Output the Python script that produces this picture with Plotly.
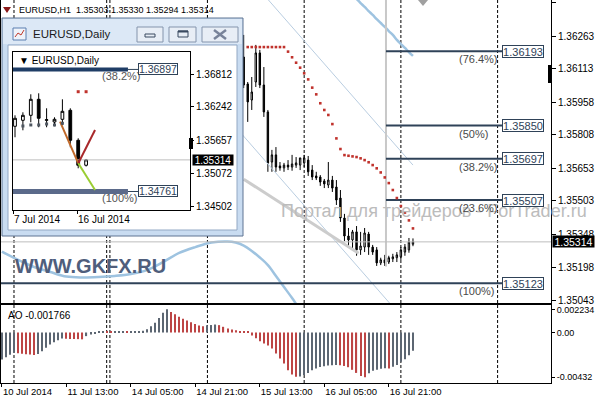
import plotly.graph_objects as go

# ------------------------------------------------------------------ data
header_text = "EURUSD,H1\u00a0 1.35303 1.35330 1.35294 1.35314"

# H1 chart: bar 0 = 10 Jul 2014 21:00
time_tick_bars = [0, 16, 32, 48, 64, 80, 96]
time_tick_labels = ["10 Jul 2014", "11 Jul 13:00", "14 Jul 05:00", "14 Jul 21:00",
                    "15 Jul 13:00", "16 Jul 05:00", "16 Jul 21:00"]
day_separator_bars = [3.0, 26.0, 26.8, 51.0, 75.0, 99.0, 123.0]

price_ticks = [1.36418, 1.36263, 1.36113, 1.35958, 1.35808,
               1.35653, 1.35503, 1.35348, 1.35198, 1.35043]
price_tick_labels = ["1.36418", "1.36263", "1.36113", "1.35958", "1.35808",
                     "1.35653", "1.35503", "1.35348", "1.35198", "1.35043"]

candle_bars = list(range(60, 103))
candle_open = [1.36166, 1.36042, 1.35968, 1.36051, 1.36185, 1.36037, 1.35913, 1.35682, 1.35715, 1.35664,
               1.35655, 1.35668, 1.35659, 1.35668, 1.35668, 1.35678, 1.35691, 1.35645, 1.35618, 1.35613,
               1.35595, 1.35576, 1.35599, 1.35567, 1.35516, 1.35424, 1.35341, 1.35323, 1.35360, 1.35277,
               1.35290, 1.35350, 1.35290, 1.35277, 1.35217, 1.35231, 1.35221, 1.35236, 1.35241, 1.35245,
               1.35267, 1.35277, 1.35303]
candle_high = [1.36268, 1.36051, 1.36074, 1.36222, 1.36199, 1.36120, 1.35922, 1.35738, 1.35751, 1.35682,
               1.35678, 1.35691, 1.35715, 1.35705, 1.35701, 1.35715, 1.35710, 1.35668, 1.35637, 1.35622,
               1.35604, 1.35682, 1.35618, 1.35599, 1.35553, 1.35443, 1.35378, 1.35369, 1.35387, 1.35360,
               1.35378, 1.35360, 1.35300, 1.35290, 1.35241, 1.35254, 1.35250, 1.35259, 1.35267, 1.35290,
               1.35304, 1.35332, 1.35330]
candle_low = [1.36023, 1.35867, 1.35922, 1.36028, 1.36023, 1.35890, 1.35637, 1.35637, 1.35637, 1.35642,
              1.35637, 1.35645, 1.35642, 1.35655, 1.35645, 1.35659, 1.35618, 1.35599, 1.35599, 1.35572,
              1.35562, 1.35562, 1.35544, 1.35484, 1.35406, 1.35318, 1.35286, 1.35277, 1.35250, 1.35254,
              1.35267, 1.35254, 1.35254, 1.35203, 1.35207, 1.35203, 1.35212, 1.35221, 1.35221, 1.35231,
              1.35250, 1.35264, 1.35294]
candle_close = [1.36037, 1.35959, 1.36005, 1.36185, 1.36037, 1.35913, 1.35678, 1.35715, 1.35659, 1.35655,
                1.35668, 1.35659, 1.35673, 1.35678, 1.35701, 1.35701, 1.35637, 1.35613, 1.35609, 1.35590,
                1.35581, 1.35599, 1.35562, 1.35507, 1.35424, 1.35341, 1.35323, 1.35360, 1.35277, 1.35295,
                1.35355, 1.35290, 1.35267, 1.35217, 1.35231, 1.35217, 1.35241, 1.35245, 1.35254, 1.35277,
                1.35290, 1.35313, 1.35314]

sar_bars = list(range(61, 103))
sar_values = [1.36212] * 10 + [
    1.36191, 1.36165, 1.36140, 1.36117, 1.36091, 1.36063, 1.36025, 1.35994, 1.35953, 1.35922,
    1.35899, 1.35857, 1.35791, 1.35742, 1.35714, 1.35711, 1.35708, 1.35705, 1.35699, 1.35691,
    1.35681, 1.35668, 1.35653, 1.35634, 1.35611, 1.35585, 1.35553, 1.35516, 1.35479, 1.35449,
    1.35413, 1.35376]

bb_upper_bars = list(range(84, 103))
bb_upper = [1.36503, 1.36484, 1.36470, 1.36452, 1.36434, 1.36415, 1.36397, 1.36378, 1.36360, 1.36341,
            1.36323, 1.36305, 1.36286, 1.36268, 1.36245, 1.36226, 1.36208, 1.36189, 1.36171]
bb_lower_bars = [0, 4, 8, 12, 16, 20, 24, 28, 32, 36, 40, 44, 48, 52, 56, 58, 60, 62, 64, 66, 68, 70, 72, 74, 76]
bb_lower = [1.35269, 1.35231, 1.35198, 1.35175, 1.35154, 1.35150, 1.35152, 1.35157, 1.35166, 1.35184,
            1.35221, 1.35263, 1.35290, 1.35311, 1.35316, 1.35311, 1.35297, 1.35272, 1.35242, 1.35207,
            1.35157, 1.35106, 1.35055, 1.35000, 1.34945]

channel_upper_bars = [66, 102]
channel_upper = [1.36432, 1.35668]
channel_lower_bars = [59, 100]
channel_lower = [1.35822, 1.34951]
trend_bars = [60, 88.5]
trend_values = [1.35603, 1.35262]

fib_anchor_bar = 95.3
fib_range = [1.35200, 1.36507]
fib_end_bar = 124.1
fib_label_bar = 112.9
fib_levels = [1.36193, 1.35850, 1.35697, 1.35507, 1.35123]
fib_labels = ["(76.4%)", "(50%)", "(38.2%)", "(23.6%)", "(100%)"]
fib_start_bars = [95.3, 95.3, 95.3, 95.3, -1.0]
last_price = 1.35314

ao_values = [
    -0.00260, -0.00240, -0.00215, -0.00195, -0.00200, -0.00206, -0.00210, -0.00213, -0.00216, -0.00208,
    -0.00180, -0.00148, -0.00116, -0.00093, -0.00074, -0.00058, -0.00060, -0.00062, -0.00063, -0.00064,
    -0.00066, -0.00035, -0.00019, -0.00008, 0.00008, 0.00010, 0.00009, 0.00008, 0.00010, 0.00011,
    0.00012, 0.00011, 0.00012, 0.00013, 0.00014, 0.00016, 0.00032, 0.00060, 0.00095, 0.00140,
    0.00190, 0.002234, 0.00198, 0.00175, 0.00153, 0.00132, 0.00115, 0.00098, 0.00083, 0.00068,
    0.00060, 0.00071, 0.00072, 0.00077, 0.00071, 0.00055, 0.00039, 0.00029, 0.00022, 0.00012,
    0.00010, 0.00008, -0.00030, -0.00055, -0.00085, -0.00105, -0.00125, -0.00155, -0.00203, -0.00251,
    -0.00300, -0.00364, -0.00405, -0.00428, -0.00425, -0.00410, -0.00390, -0.00365, -0.00348, -0.00333,
    -0.00325, -0.00319, -0.00315, -0.00313, -0.00316, -0.00323, -0.00335, -0.00360, -0.00390, -0.00420,
    -0.00432, -0.00393, -0.00370, -0.00360, -0.00351, -0.00344, -0.00348, -0.00331, -0.00314, -0.00282,
    -0.00258, -0.00220, -0.001766]
ao_label = "AO -0.001766"
ao_ticks = [0.002234, 0.0, -0.00432]
ao_tick_labels = ["0.002234", "0.00", "-0.00432"]

# Daily inset: bar 0 = 4 Jul 2014 ... bar 9 = 17 Jul 2014
daily_bars = list(range(10))
daily_open = [1.35902, 1.36007, 1.36094, 1.36374, 1.36007, 1.35977, 1.36024, 1.36182, 1.35657, 1.35220]
daily_high = [1.36094, 1.36147, 1.36462, 1.36479, 1.36217, 1.36059, 1.36374, 1.36217, 1.35692, 1.35330]
daily_low = [1.35710, 1.35832, 1.35972, 1.35885, 1.35885, 1.35902, 1.35919, 1.35535, 1.35167, 1.35198]
daily_close = [1.36042, 1.36094, 1.36374, 1.36042, 1.36016, 1.36024, 1.36164, 1.35657, 1.35220, 1.35314]
daily_dots_low_bars = [1, 2, 3, 4, 5, 6]
daily_dots_low = [1.35907, 1.35925, 1.35925, 1.35942, 1.35925, 1.35954]
daily_dots_high_bars = [8, 9]
daily_dots_high = [1.36507, 1.36507]
daily_price_ticks = [1.36812, 1.36242, 1.35657, 1.35072, 1.34502]
daily_price_labels = ["1.36812", "1.36242", "1.35657", "1.35072", "1.34502"]
daily_date_ticks = [-0.25, 7.85]
daily_date_labels = ["7 Jul 2014", "16 Jul 2014"]
daily_fib_levels = [1.36897, 1.34761]
daily_fib_labels = ["(38.2%)", "(100%)"]
daily_fib_end_bar = 14.3
daily_fib_box_bar = 15.57
daily_fib_label_bar = 10.76
daily_brown_bars, daily_brown = [5.70, 8.01], [1.35982, 1.35254]
daily_red_bars, daily_red = [8.01, 10.13], [1.35254, 1.35837]
daily_green_bars, daily_green = [8.01, 10.13], [1.35254, 1.34787]

# ------------------------------------------------------------------ helpers
FONT = "Liberation Sans, Arial, sans-serif"
PL, PR, PB = 1, 551, 383  # plot area in pixels (left, right, bottom; top = 0)


def px(x):
    return (x - PL) / (PR - PL)


def py(y):
    return (PB - y) / PB


def lines(xs, ys, color, width, ax=("x", "y"), shape="linear"):
    return go.Scatter(x=xs, y=ys, mode="lines", line=dict(color=color, width=width, shape=shape),
                      xaxis=ax[0], yaxis=ax[1], hoverinfo="skip", showlegend=False)


fig = go.Figure()

# ---------------- main H1 panel
BAND = "#9ec3e0"
fig.add_trace(lines(bb_lower_bars, bb_lower, BAND, 2.5, shape="spline"))
fig.add_trace(lines(bb_upper_bars, bb_upper, BAND, 2.5, shape="spline"))
fig.add_trace(lines(channel_upper_bars, channel_upper, "#b9cde0", 1))
fig.add_trace(lines(channel_lower_bars, channel_lower, "#b9cde0", 1))
fig.add_trace(lines(trend_bars, trend_values, "#cccccc", 3))
fig.add_trace(lines([fib_anchor_bar, fib_anchor_bar], fib_range, "#c8c8c8", 2))
fig.add_trace(lines([-1, 140], [last_price, last_price], "#bdbdbd", 1))
fx, fy = [], []
for lvl, start in zip(fib_levels, fib_start_bars):
    fx += [start, fib_end_bar, None]
    fy += [lvl, lvl, None]
fig.add_trace(lines(fx, fy, "#2f4258", 2))

fig.add_trace(go.Candlestick(
    x=candle_bars, open=candle_open, high=candle_high, low=candle_low, close=candle_close,
    increasing=dict(line=dict(color="black", width=1), fillcolor="white"),
    decreasing=dict(line=dict(color="black", width=1), fillcolor="black"),
    whiskerwidth=0, xaxis="x", yaxis="y", hoverinfo="skip", showlegend=False))
fig.add_trace(go.Scatter(x=sar_bars, y=sar_values, mode="markers",
                         marker=dict(symbol="square", size=2.6, color="#c0322c"),
                         xaxis="x", yaxis="y", hoverinfo="skip", showlegend=False))

# ---------------- AO panel
ao_colors = []
for k, v in enumerate(ao_values):
    ao_colors.append("#5c6672" if k == 0 or v >= ao_values[k - 1] else "#bd4545")
fig.add_trace(go.Bar(x=list(range(len(ao_values))), y=ao_values, width=0.28,
                     marker=dict(color=ao_colors, line=dict(width=0)),
                     xaxis="x2", yaxis="y2", hoverinfo="skip", showlegend=False))

# ---------------- window canvas (pixel axes)
fig.add_trace(go.Scatter(x=[1], y=[1], mode="markers", marker=dict(opacity=0),
                         xaxis="x3", yaxis="y3", hoverinfo="skip", showlegend=False))

# ---------------- Daily inset chart
fig.add_trace(lines([-1, 30], [last_price, last_price], "#bdbdbd", 1, ax=("x4", "y4")))
fig.add_trace(lines([-0.5, daily_fib_end_bar], [daily_fib_levels[0]] * 2, "#1f3d66", 4, ax=("x4", "y4")))
fig.add_trace(lines([-0.5, daily_fib_end_bar], [daily_fib_levels[1]] * 2, "#5b6a8a", 5, ax=("x4", "y4")))
for lvl in daily_fib_levels:
    fig.add_trace(lines([daily_fib_end_bar, daily_fib_box_bar], [lvl, lvl], "#2f4258", 1, ax=("x4", "y4")))
fig.add_trace(go.Candlestick(
    x=daily_bars, open=daily_open, high=daily_high, low=daily_low, close=daily_close,
    increasing=dict(line=dict(color="black", width=1), fillcolor="white"),
    decreasing=dict(line=dict(color="black", width=1), fillcolor="black"),
    whiskerwidth=0, xaxis="x4", yaxis="y4", hoverinfo="skip", showlegend=False))
fig.add_trace(lines(daily_brown_bars, daily_brown, "#c0692a", 2, ax=("x4", "y4")))
fig.add_trace(lines(daily_red_bars, daily_red, "#a8282a", 2, ax=("x4", "y4")))
fig.add_trace(lines(daily_green_bars, daily_green, "#9acd32", 2, ax=("x4", "y4")))
fig.add_trace(go.Scatter(x=daily_dots_low_bars, y=daily_dots_low, mode="markers",
                         marker=dict(symbol="square", size=3, color="#4e5660"),
                         xaxis="x4", yaxis="y4", hoverinfo="skip", showlegend=False))
fig.add_trace(go.Scatter(x=daily_dots_high_bars, y=daily_dots_high, mode="markers",
                         marker=dict(symbol="square", size=3, color="#c0322c"),
                         xaxis="x4", yaxis="y4", hoverinfo="skip", showlegend=False))

# ------------------------------------------------------------------ layout
X_RANGE = [-0.223, 136.25]
Y_RANGE = [1.350322, 1.36429]
AO_RANGE = [-0.0048733, 0.0026538]


def axis_common(size=10):
    return dict(showgrid=False, zeroline=False, fixedrange=True, automargin=False,
                linecolor="black", linewidth=1, tickcolor="black",
                tickfont=dict(family=FONT, size=size, color="black"))


fig.update_layout(
    width=596, height=400, margin=dict(l=1, r=45, t=0, b=17, pad=0),
    paper_bgcolor="white", plot_bgcolor="rgba(0,0,0,0)", showlegend=False, boxgap=0.5,
    font=dict(family=FONT, size=10, color="black"), hovermode=False,
    xaxis=dict(domain=[0, 1], range=X_RANGE, anchor="y", showticklabels=False, ticks="",
               showline=True, rangeslider=dict(visible=False), **axis_common()),
    yaxis=dict(domain=[py(303), 1], range=Y_RANGE, anchor="x", side="right",
               tickvals=price_ticks, ticktext=price_tick_labels, ticks="outside", ticklen=4,
               showline=True, mirror=True, **axis_common()),
    xaxis2=dict(domain=[0, 1], range=X_RANGE, anchor="y2", tickvals=time_tick_bars,
                ticktext=time_tick_labels, ticklabelposition="outside right", ticks="outside",
                ticklen=3, showline=True, mirror=True, **axis_common(9.5)),
    yaxis2=dict(domain=[0, py(305)], range=AO_RANGE, anchor="x2", side="right",
                tickvals=ao_ticks, ticktext=ao_tick_labels, ticks="outside", ticklen=3,
                showline=True, mirror=True, **axis_common(9)),
    xaxis3=dict(domain=[0, 1], range=[1, 551], anchor="y3", visible=False, fixedrange=True),
    yaxis3=dict(domain=[0, 1], range=[383, 0], anchor="x3", visible=False, fixedrange=True),
    xaxis4=dict(domain=[px(13), px(190)], range=[-0.253, 22.152], anchor="y4",
                tickvals=daily_date_ticks, ticktext=daily_date_labels,
                ticklabelposition="outside right", ticks="outside", ticklen=3,
                showline=True, mirror=True, rangeslider=dict(visible=False), **axis_common()),
    yaxis4=dict(domain=[py(210), py(52)], range=[1.34437, 1.37202], anchor="x4", side="right",
                tickvals=daily_price_ticks, ticktext=daily_price_labels, ticks="outside", ticklen=3,
                showline=True, mirror=True, **axis_common()),
)

# ------------------------------------------------------------------ shapes
shapes = []
for b in day_separator_bars:
    shapes.append(dict(type="line", xref="x", yref="y", x0=b, x1=b, y0=Y_RANGE[0], y1=Y_RANGE[1],
                       layer="below", line=dict(color="black", width=1, dash="3px,2px")))
    shapes.append(dict(type="line", xref="x2", yref="y2", x0=b, x1=b, y0=AO_RANGE[0], y1=AO_RANGE[1],
                       layer="below", line=dict(color="black", width=1, dash="3px,2px")))


def win_rect(x0, y0, x1, y1, fill=None, line=None, lw=1):
    shapes.append(dict(type="rect", xref="x3", yref="y3", x0=x0, x1=x1, y0=y0, y1=y1, layer="below",
                       fillcolor=fill if fill else "rgba(0,0,0,0)",
                       line=dict(color=line if line else "rgba(0,0,0,0)", width=lw if line else 0)))


def win_line(x0, y0, x1, y1, color, lw=1):
    shapes.append(dict(type="line", xref="x3", yref="y3", x0=x0, x1=x1, y0=y0, y1=y1, layer="below",
                       line=dict(color=color, width=lw)))


# window frame
win_rect(2, 18, 243, 236, fill="#c9dcf1", line="#5f7593")
win_rect(3, 19, 242, 44, fill="#dce8f6")
win_rect(8, 45, 237, 230, fill="white", line="#93a8c4")
# title icon
win_rect(13, 28, 26, 40, fill="#eef3fa", line="#5a7fb0")
shapes.append(dict(type="path", xref="x3", yref="y3", layer="below",
                   path="M 15 37 L 18 33 L 21 35 L 24 30", line=dict(color="#c0392b", width=1)))
# buttons
for bx0, bx1 in [(137, 163), (169, 196), (202, 238)]:
    win_rect(bx0, 27, bx1, 42, fill="#e8eef6", line="#8494ac")
win_rect(145, 34, 155, 37, line="#3a4a60")
win_rect(178, 31, 188, 37, line="#3a4a60")
win_line(178, 31.5, 188, 31.5, "#3a4a60", 2)
win_line(214, 30, 226, 39, "#78839a", 2.5)
win_line(214, 39, 226, 30, "#78839a", 2.5)

# overlay pieces (paper, above)


def paper_rect(x0, y0, x1, y1, fill, line=None):
    shapes.append(dict(type="rect", xref="paper", yref="paper", x0=px(x0), x1=px(x1),
                       y0=py(y1), y1=py(y0), layer="above", fillcolor=fill,
                       line=dict(color=line if line else fill, width=1 if line else 0)))


paper_rect(548, 65, 552, 83, "black")        # price scale marker
paper_rect(189, 138, 193, 149, "black")      # inset scale marker


def paper_path(points, fill):
    d = "M " + " L ".join(f"{px(a):.5f} {py(b):.5f}" for a, b in points) + " Z"
    shapes.append(dict(type="path", xref="paper", yref="paper", path=d, layer="above",
                       fillcolor=fill, line=dict(width=0)))


paper_path([(3, 7), (11, 7), (7, 13)], "#8b1a1a")          # header icon
paper_path([(418, 0), (428, 0), (423, 6)], "#a0a0a0")      # chart shift marker

fig.update_layout(shapes=shapes)

# ------------------------------------------------------------------ annotations
ann = []


def text(t, x, y, size=10, color="black", xanchor="left", **kw):
    d = dict(text=t, x=px(x), y=py(y), xref="paper", yref="paper", showarrow=False,
             xanchor=xanchor, yanchor="middle", font=dict(family=FONT, size=size, color=color))
    d.update(kw)
    ann.append(d)


text(header_text, 17, 10, size=9)
text(ao_label, 6, 315, size=10)
text("Портал для трейдеров - ForTrader.ru", 279, 211, size=18, color="#bcbcbc")
text("<b>WWW.GKFX.RU</b>", 13, 266, size=20, color="#4f5e7c")
text("EURUSD,Daily", 31, 34, size=11.5, color="#1b1b1b")
text("▼ EURUSD,Daily", 17, 60, size=10)

for lvl, lab in zip(fib_levels, fib_labels):
    ann.append(dict(text=lab, x=fib_label_bar, y=lvl, xref="x", yref="y", showarrow=False,
                    xanchor="left", yanchor="middle", yshift=-8,
                    font=dict(family=FONT, size=11, color="#4a4a4a")))
    ann.append(dict(text=f"{lvl:.5f}", x=fib_end_bar, y=lvl, xref="x", yref="y", showarrow=False,
                    xanchor="left", yanchor="middle", width=40, height=11, borderpad=0,
                    bordercolor="#2f4258", borderwidth=1, bgcolor="white",
                    font=dict(family=FONT, size=11, color="#2f4258")))

ann.append(dict(text=f"{last_price:.5f}", x=1, xshift=1, y=last_price, xref="paper", yref="y",
                showarrow=False, xanchor="left", yanchor="middle", width=41, height=11, borderpad=0,
                bgcolor="black", font=dict(family=FONT, size=10.5, color="white")))

for lvl, lab in zip(daily_fib_levels, daily_fib_labels):
    ann.append(dict(text=lab, x=daily_fib_label_bar, y=lvl, xref="x4", yref="y4", showarrow=False,
                    xanchor="left", yanchor="middle", yshift=-7,
                    font=dict(family=FONT, size=11, color="#555555")))
    ann.append(dict(text=f"{lvl:.5f}", x=daily_fib_box_bar, y=lvl, xref="x4", yref="y4",
                    showarrow=False, xanchor="left", yanchor="middle", width=38, height=10,
                    borderpad=0, bordercolor="#2f4258", borderwidth=1, bgcolor="white",
                    font=dict(family=FONT, size=10.5, color="#2f4258")))
ann.append(dict(text=f"{last_price:.5f}", x=px(192), y=last_price, xref="paper", yref="y4",
                showarrow=False, xanchor="left", yanchor="middle", width=40, height=10, borderpad=0,
                bgcolor="black", font=dict(family=FONT, size=10, color="white")))

fig.update_layout(annotations=ann)

fig.write_html("out.html", config={"displayModeBar": False},
               post_script="document.body.style.margin='0px';")
